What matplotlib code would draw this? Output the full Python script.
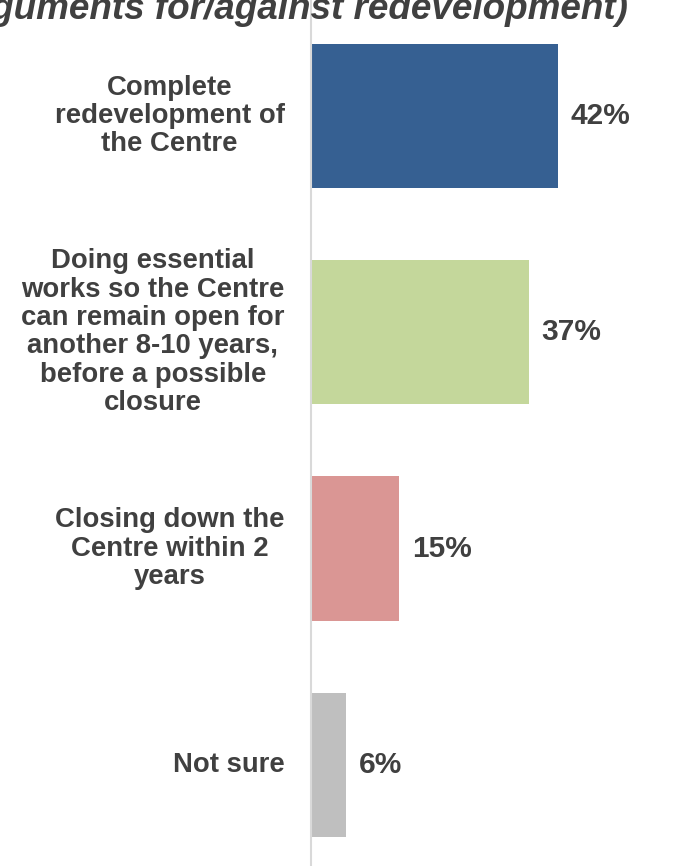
import matplotlib.pyplot as plt

options = ['Complete\nredevelopment of\nthe Centre',
           'Doing essential\nworks so the Centre\ncan remain open for\nanother 8-10 years,\nbefore a possible\nclosure',
           'Closing down the\nCentre within 2\nyears',
           'Not sure']
share = [42, 37, 15, 6]
colors = ['#366092', '#C4D79B', '#DA9694', '#BFBFBF']
title = '(arguments for/against redevelopment)'

plt.rcParams['font.family'] = ['Liberation Sans', 'DejaVu Sans']
dark = '#404040'

W, H = 679, 866
fig = plt.figure(figsize=(W / 100, H / 100), dpi=100)
x0 = 311
ax = fig.add_axes([x0 / W, 0, (W - x0) / W, 1])

pos = list(range(len(share)))
ax.barh(pos, share, height=0.667, color=colors)
ax.set_xlim(0, (W - x0) / 5.88)
ax.set_ylim(3.467, -0.536)

for s in ['top', 'right', 'bottom']:
    ax.spines[s].set_visible(False)
ax.spines['left'].set_color('#D9D9D9')
ax.spines['left'].set_linewidth(1.5)
ax.set_xticks([])
ax.set_yticks([])

for p, v, lab in zip(pos, share, options):
    ax.annotate(f'{v}%', (v, p), xytext=(9, 0), textcoords='offset points',
                va='center', ha='left', fontsize=21.5, fontweight='bold', color=dark)
    ax.annotate(lab, (0, p), xytext=(-19, 0), textcoords='offset points',
                va='center', ha='right', multialignment='center', linespacing=1.12,
                fontsize=19.8, fontweight='bold', color=dark)

# title sits partly above/left of the canvas
fig.text(628 / W, 1 - 19 / H, title, ha='right', va='baseline', fontsize=26.6,
         fontweight='bold', fontstyle='italic', color=dark)

fig.savefig('out.png', dpi=100)
